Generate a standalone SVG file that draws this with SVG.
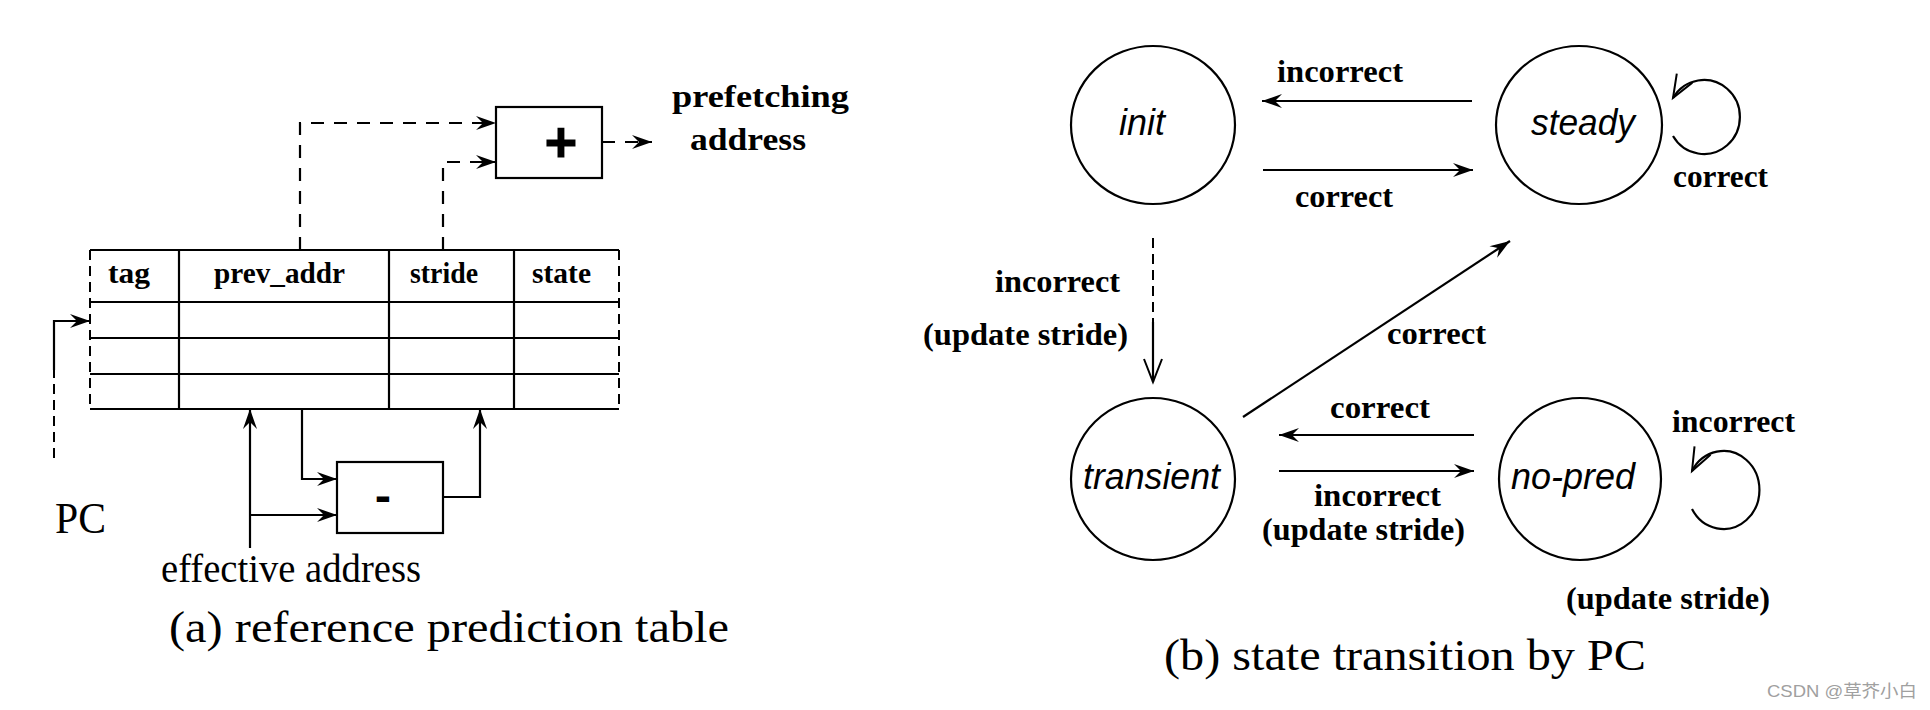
<svg xmlns="http://www.w3.org/2000/svg" width="1930" height="710" viewBox="0 0 1930 710">
<style>
.ln{fill:none;stroke:#000;stroke-width:2.2}
.ds{fill:none;stroke:#000;stroke-width:2.2;stroke-dasharray:13 10}
.dd{fill:none;stroke:#000;stroke-width:2;stroke-dasharray:10 6}
.lab{font-family:"Liberation Serif","Times New Roman",serif;font-weight:bold;font-size:32px;fill:#000}
.hdr{font-family:"Liberation Serif","Times New Roman",serif;font-weight:bold;font-size:29px;fill:#000}
.reg{font-family:"Liberation Serif","Times New Roman",serif;font-size:40px;fill:#000}
.cap{font-family:"Liberation Serif","Times New Roman",serif;font-size:44px;fill:#000}
.st{font-family:"Liberation Sans",Arial,sans-serif;font-style:italic;font-size:36px;fill:#000}
.node{fill:#fff;stroke:#000;stroke-width:2.2}
</style>
<defs>
<marker id="a" markerUnits="userSpaceOnUse" markerWidth="30" markerHeight="20" viewBox="-25 -10 30 20" refX="0" refY="0" orient="auto" overflow="visible">
<path d="M0,0 L-20,-7 L-13,0 L-20,7 Z" fill="#000"/>
</marker>
<marker id="v" markerUnits="userSpaceOnUse" markerWidth="30" markerHeight="24" viewBox="-26 -12 30 24" refX="0" refY="0" orient="auto" overflow="visible">
<path d="M-23,-9 L0,0 L-23,9" fill="none" stroke="#000" stroke-width="2"/>
</marker>
</defs>
<rect width="1930" height="710" fill="#fff"/>

<!-- (a) reference prediction table -->
<g id="plus-box">
<rect x="496" y="107" width="106" height="71" class="node"/>
<text x="561" y="162" text-anchor="middle" font-family="Liberation Serif,serif" font-weight="bold" font-size="56" stroke="#000" stroke-width="3">+</text>
</g>
<g id="minus-box">
<rect x="337" y="462" width="106" height="71" class="node"/>
<text x="383" y="509" text-anchor="middle" font-family="Liberation Serif,serif" font-weight="bold" font-size="40" stroke="#000" stroke-width="2">-</text>
</g>
<g id="table">
<line x1="90" y1="250" x2="619" y2="250" class="ln"/>
<line x1="90" y1="302" x2="619" y2="302" class="ln"/>
<line x1="90" y1="338" x2="619" y2="338" class="ln"/>
<line x1="90" y1="374" x2="619" y2="374" class="ln"/>
<line x1="90" y1="409" x2="619" y2="409" class="ln"/>
<line x1="90" y1="250" x2="90" y2="409" class="dd"/>
<line x1="619" y1="250" x2="619" y2="409" class="dd"/>
<line x1="179" y1="250" x2="179" y2="409" class="ln"/>
<line x1="389" y1="250" x2="389" y2="409" class="ln"/>
<line x1="514" y1="250" x2="514" y2="409" class="ln"/>
<text x="108" y="283" class="hdr" textLength="42" lengthAdjust="spacingAndGlyphs">tag</text>
<text x="214" y="283" class="hdr" textLength="131" lengthAdjust="spacingAndGlyphs">prev_addr</text>
<text x="410" y="283" class="hdr" textLength="68" lengthAdjust="spacingAndGlyphs">stride</text>
<text x="532" y="283" class="hdr" textLength="59" lengthAdjust="spacingAndGlyphs">state</text>
</g>
<g id="labels-a">
<text x="672" y="107" class="lab" font-size="35" textLength="177" lengthAdjust="spacingAndGlyphs">prefetching</text>
<text x="690" y="150" class="lab" font-size="35" textLength="116" lengthAdjust="spacingAndGlyphs">address</text>
<text x="55" y="533" class="cap" textLength="51" lengthAdjust="spacingAndGlyphs">PC</text>
<text x="161" y="582" class="reg" font-size="37" textLength="260" lengthAdjust="spacingAndGlyphs">effective address</text>
<text x="169" y="642" class="cap" textLength="560" lengthAdjust="spacingAndGlyphs">(a) reference prediction table</text>
</g>
<g id="connectors-a">
<path d="M300,250 V123 H496" class="ds" marker-end="url(#a)"/>
<path d="M443,250 V162 H496" class="ds" marker-end="url(#a)"/>
<path d="M602,142 H652" class="ds" marker-end="url(#a)"/>
<path d="M54,458 V370" class="dd"/>
<path d="M54,370 V321 H90" class="ln" marker-end="url(#a)"/>
<path d="M250,548 V409" class="ln" marker-end="url(#a)"/>
<path d="M250,515 H337" class="ln" marker-end="url(#a)"/>
<path d="M302,409 V479 H337" class="ln" marker-end="url(#a)"/>
<path d="M443,497 H480 V409" class="ln" marker-end="url(#a)"/>
</g>

<!-- (b) state transition by PC -->
<g id="init">
<ellipse cx="1153" cy="125" rx="82" ry="79" class="node"/>
<text x="1119" y="135" class="st" textLength="46" lengthAdjust="spacingAndGlyphs">init</text>
</g>
<g id="steady">
<ellipse cx="1579" cy="125" rx="83" ry="79" class="node"/>
<text x="1531" y="135" class="st" textLength="104" lengthAdjust="spacingAndGlyphs">steady</text>
</g>
<g id="transient">
<ellipse cx="1153" cy="479" rx="82" ry="81" class="node"/>
<text x="1083" y="489" class="st" textLength="137" lengthAdjust="spacingAndGlyphs">transient</text>
</g>
<g id="no-pred">
<ellipse cx="1580" cy="479" rx="81" ry="81" class="node"/>
<text x="1511" y="489" class="st" textLength="124" lengthAdjust="spacingAndGlyphs">no-pred</text>
</g>
<g id="connectors-b">
<line x1="1472" y1="101" x2="1262" y2="101" class="ln" marker-end="url(#a)"/>
<line x1="1263" y1="170" x2="1473" y2="170" class="ln" marker-end="url(#a)"/>
<line x1="1153" y1="238" x2="1153" y2="322" class="dd"/>
<line x1="1153" y1="322" x2="1153" y2="382" class="ln" marker-end="url(#v)"/>
<line x1="1243" y1="417" x2="1510" y2="241" class="ln" marker-end="url(#a)"/>
<line x1="1474" y1="435" x2="1279" y2="435" class="ln" marker-end="url(#a)"/>
<line x1="1279" y1="471" x2="1474" y2="471" class="ln" marker-end="url(#a)"/>
<path d="M1673,136 A36 37 0 1 0 1673,98" class="ln" marker-end="url(#v)"/>
<path d="M1692,509 A36 39 0 1 0 1692,471" class="ln" marker-end="url(#v)"/>
</g>
<g id="labels-b">
<text x="1277" y="82" class="lab" textLength="126" lengthAdjust="spacingAndGlyphs">incorrect</text>
<text x="1295" y="207" class="lab" textLength="98" lengthAdjust="spacingAndGlyphs">correct</text>
<text x="1673" y="187" class="lab" textLength="95" lengthAdjust="spacingAndGlyphs">correct</text>
<text x="995" y="292" class="lab" textLength="125" lengthAdjust="spacingAndGlyphs">incorrect</text>
<text x="923" y="345" class="lab" textLength="205" lengthAdjust="spacingAndGlyphs">(update stride)</text>
<text x="1387" y="344" class="lab" textLength="99" lengthAdjust="spacingAndGlyphs">correct</text>
<text x="1330" y="418" class="lab" textLength="100" lengthAdjust="spacingAndGlyphs">correct</text>
<text x="1314" y="506" class="lab" textLength="127" lengthAdjust="spacingAndGlyphs">incorrect</text>
<text x="1262" y="540" class="lab" textLength="203" lengthAdjust="spacingAndGlyphs">(update stride)</text>
<text x="1672" y="432" class="lab" textLength="123" lengthAdjust="spacingAndGlyphs">incorrect</text>
<text x="1566" y="609" class="lab" textLength="204" lengthAdjust="spacingAndGlyphs">(update stride)</text>
<text x="1164" y="670" class="cap" textLength="482" lengthAdjust="spacingAndGlyphs">(b) state transition by PC</text>
</g>
<text x="1767" y="697" font-family="Liberation Sans,'Noto Sans CJK SC',sans-serif" font-size="17" fill="#a0a0a0" textLength="150" lengthAdjust="spacingAndGlyphs">CSDN @草芥小白</text>
</svg>
